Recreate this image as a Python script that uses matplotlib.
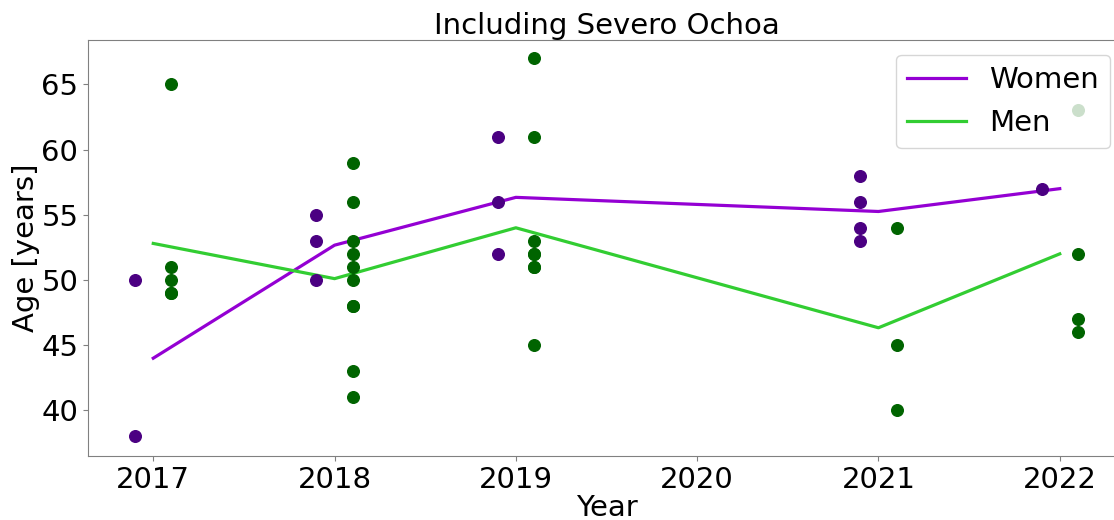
import numpy as np
import matplotlib
matplotlib.use('Agg')
import matplotlib.pyplot as plt

# ages per year
years = [2017, 2018, 2019, 2021, 2022]

women_ages = {
    2017: [50, 38],
    2018: [55, 53, 50],
    2019: [61, 56, 52],
    2021: [58, 56, 54, 53],
    2022: [57],
}

men_ages = {
    2017: [65, 51, 50, 49, 49],
    2018: [59, 56, 53, 52, 51, 50, 48, 48, 43, 41],
    2019: [67, 61, 53, 52, 52, 51, 51, 45],
    2021: [54, 45, 40],
    2022: [63, 52, 47, 46],
}

women_mean = [np.mean(women_ages[y]) for y in years]
men_mean = [np.mean(men_ages[y]) for y in years]

fs = 21
grey = '#808080'

fig = plt.figure(figsize=(11.14, 5.2), dpi=100)
ax = fig.add_axes([88/1114, 64/520, (1125-88)/1114, 416/520])

for y in years:
    ax.scatter([y-0.1]*len(women_ages[y]), women_ages[y], color='indigo', s=70, zorder=3)
    ax.scatter([y+0.1]*len(men_ages[y]), men_ages[y], color='darkgreen', s=70, zorder=3)

ax.plot(years, women_mean, color='darkviolet', lw=2.3, label='Women')
ax.plot(years, men_mean, color='limegreen', lw=2.3, label='Men')

ax.set_xlim(2016.64, 2022.36)
ax.set_ylim(36.5, 68.4)
ax.set_xticks([2017, 2018, 2019, 2020, 2021, 2022])
ax.set_yticks([40, 45, 50, 55, 60, 65])

for s in ax.spines.values():
    s.set_color(grey)
ax.tick_params(colors=grey, labelcolor='black', labelsize=fs)

ax.set_xlabel('Year', fontsize=fs, labelpad=0)
ax.set_ylabel('Age [years]', fontsize=fs, labelpad=1)
ax.set_title('Including Severo Ochoa', fontsize=21, pad=2)
ax.legend(loc='upper right', fontsize=fs)

plt.savefig('out.png', dpi=100)
